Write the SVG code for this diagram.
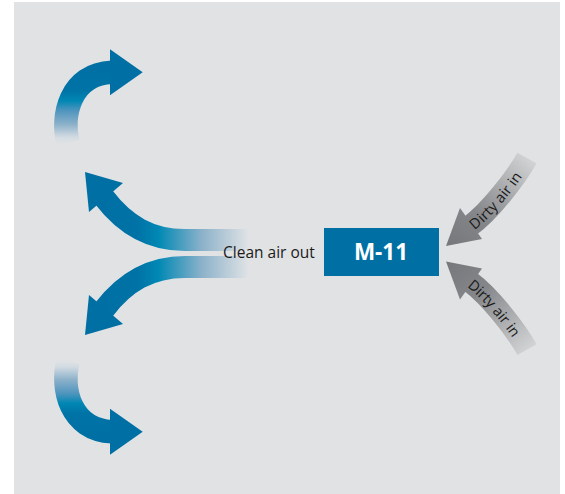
<svg xmlns="http://www.w3.org/2000/svg" width="565" height="494" viewBox="0 0 565 494">
<defs>
<style>
.blue{fill:#006fa3}
.lbl{font-family:"Open Sans","Noto Sans","Liberation Sans",sans-serif}
.dirty{font-family:"Open Sans","Noto Sans","Liberation Sans",sans-serif;font-size:14.5px;fill:#1a1a1a}
</style>
<linearGradient id="gMidU" gradientUnits="userSpaceOnUse" x1="248" y1="0" x2="85" y2="0">
<stop offset="0" stop-color="#dfe2e5"/>
<stop offset="0.28" stop-color="#8db2ca"/>
<stop offset="0.55" stop-color="#0088b4"/>
<stop offset="0.68" stop-color="#0072a6"/>
<stop offset="1" stop-color="#006fa3"/>
</linearGradient>
<linearGradient id="gTop" gradientUnits="userSpaceOnUse" x1="0" y1="143" x2="0" y2="60">
<stop offset="0" stop-color="#dfe2e5"/>
<stop offset="0.07" stop-color="#d3dbe2"/>
<stop offset="0.23" stop-color="#8ab0c9"/>
<stop offset="0.39" stop-color="#4f95be"/>
<stop offset="0.51" stop-color="#0087b3"/>
<stop offset="0.63" stop-color="#0073a6"/>
<stop offset="1" stop-color="#006fa3"/>
</linearGradient>
<linearGradient id="gBot" gradientUnits="userSpaceOnUse" x1="0" y1="361" x2="0" y2="444">
<stop offset="0" stop-color="#dfe2e5"/>
<stop offset="0.07" stop-color="#d3dbe2"/>
<stop offset="0.23" stop-color="#8ab0c9"/>
<stop offset="0.39" stop-color="#4f95be"/>
<stop offset="0.51" stop-color="#0087b3"/>
<stop offset="0.63" stop-color="#0073a6"/>
<stop offset="1" stop-color="#006fa3"/>
</linearGradient>
<linearGradient id="gGrayU" gradientUnits="userSpaceOnUse" x1="450" y1="250" x2="534" y2="152">
<stop offset="0" stop-color="#76777a"/>
<stop offset="0.35" stop-color="#858689"/>
<stop offset="1" stop-color="#dadbdd"/>
</linearGradient>
<linearGradient id="gGrayL" gradientUnits="userSpaceOnUse" x1="450" y1="257.6" x2="534" y2="355.6">
<stop offset="0" stop-color="#76777a"/>
<stop offset="0.35" stop-color="#858689"/>
<stop offset="1" stop-color="#dadbdd"/>
</linearGradient>
</defs>
<rect x="0" y="0" width="565" height="494" fill="#ffffff"/>
<rect x="14" y="2" width="546" height="492" fill="#e1e2e4"/>

<g id="connectors">
  <g id="arrow-out-top">
    <path d="M68 143 C61 116 70 74 112 72.3" fill="none" stroke="url(#gTop)" stroke-width="23.5"/>
    <polygon class="blue" points="142.7,72.3 110,49.3 110,95.3"/>
  </g>
  <g id="arrow-out-upper">
    <path d="M248 240 L185 240 C150 240 125 225 104 197.5" fill="none" stroke="url(#gMidU)" stroke-width="22"/>
    <polygon class="blue" points="85,172 123,183 89,212"/>
  </g>
  <g id="arrow-out-lower">
    <path d="M248 267 L185 267 C150 267 125 282 104 309.5" fill="none" stroke="url(#gMidU)" stroke-width="22"/>
    <polygon class="blue" points="85,335 123,324 89,295"/>
  </g>
  <g id="arrow-out-bottom">
    <path d="M68 361 C61 388 70 430 112 431.7" fill="none" stroke="url(#gBot)" stroke-width="23.5"/>
    <polygon class="blue" points="142.7,431.7 110,408.7 110,454.7"/>
  </g>
  <g id="arrow-in-upper">
    <path id="pInU" d="M470 226 C490 211.3 516.2 177.4 527 158" fill="none" stroke="url(#gGrayU)" stroke-width="22"/>
    <polygon fill="url(#gGrayU)" points="446,246 460,208 482,239"/>
    <text class="dirty" dominant-baseline="central"><textPath href="#pInU" startOffset="1">Dirty air in</textPath></text>
  </g>
  <g id="arrow-in-lower">
    <path id="pInL" d="M470 281.6 C490 296.3 516.2 330.2 527 349.6" fill="none" stroke="url(#gGrayL)" stroke-width="22"/>
    <polygon fill="url(#gGrayL)" points="446,261.6 460,299.6 482,268.6"/>
    <text class="dirty" dominant-baseline="central"><textPath href="#pInL" startOffset="1">Dirty air in</textPath></text>
  </g>
</g>

<g id="label-clean">
  <text class="lbl" x="223" y="258" font-size="15.5" fill="#1a1a1a">Clean air out</text>
</g>
<g id="node-m11">
  <rect x="324" y="228" width="115" height="48" fill="#0070a4"/>
  <text class="lbl" x="381" y="259.5" font-size="22.5" font-weight="bold" fill="#ffffff" text-anchor="middle">M-11</text>
</g>
</svg>
